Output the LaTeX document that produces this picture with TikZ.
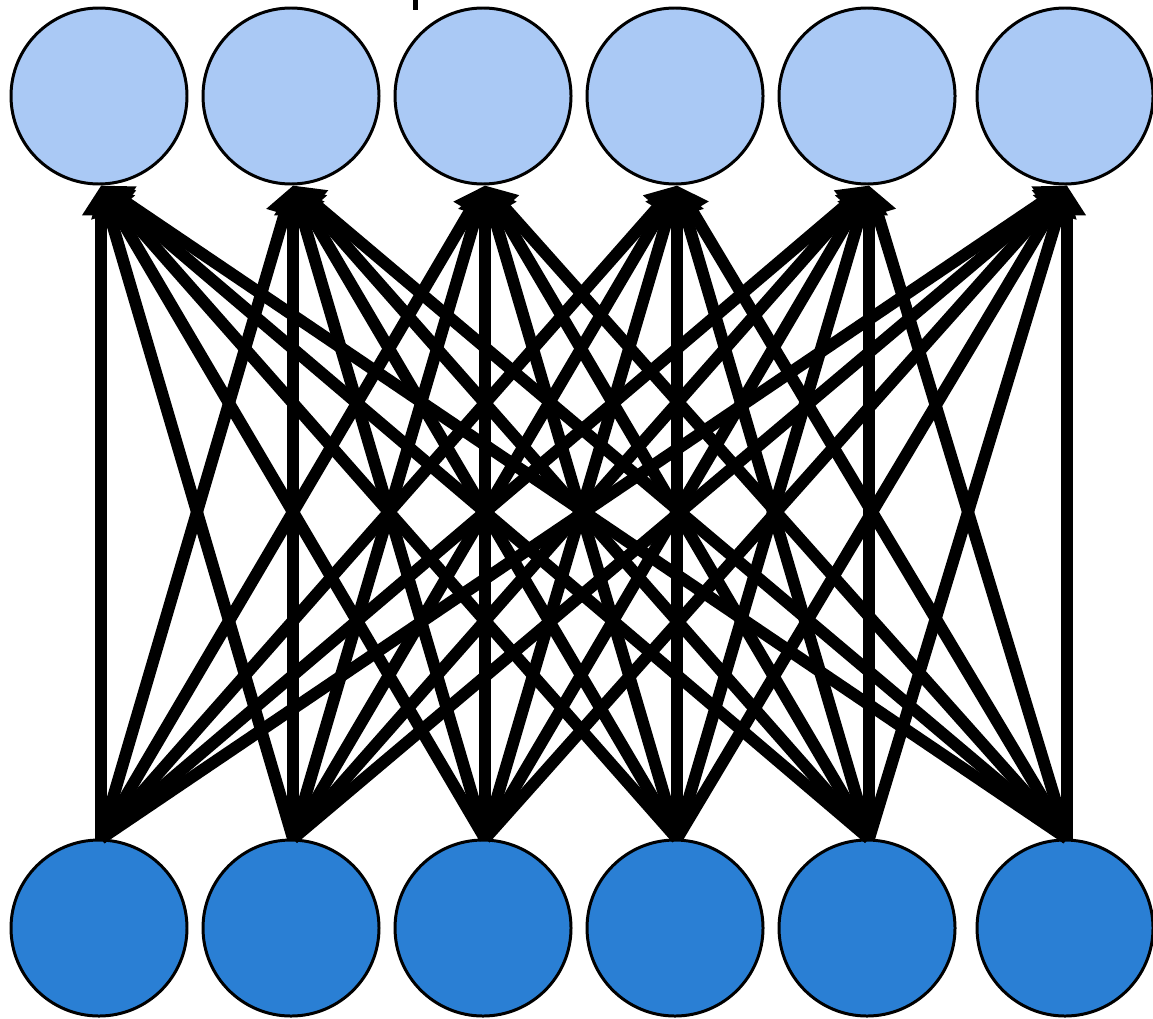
\documentclass[tikz,border=0pt]{standalone}
\usepackage{tikz}
\usetikzlibrary{arrows.meta}
\definecolor{outblue}{RGB}{170,201,245}
\definecolor{inblue}{RGB}{42,127,212}
\tikzset{
  unit/.style={circle, draw=black, line width=0.85pt, minimum size=1.76cm, inner sep=0pt},
  conn/.style={line width=0.12cm, -{Triangle[length=0.3cm, width=0.36cm]}}
}
\begin{document}
\begin{tikzpicture}
  \useasboundingbox (0,0) rectangle (11.53,10.18);
  % === small tick at the top edge ===
  \draw[line width=0.05cm] (4.155,10.18) -- (4.155,10.08);
  % === upper row (output units) ===
  \foreach \i/\x in {1/0.99, 2/2.91, 3/4.83, 4/6.75, 5/8.67, 6/10.65}
    \node[unit, fill=outblue] (out\i) at (\x,9.22) {};
  % === lower row (input units) ===
  \foreach \i/\x in {1/0.99, 2/2.91, 3/4.83, 4/6.75, 5/8.67, 6/10.65}
    \node[unit, fill=inblue] (in\i) at (\x,0.90) {};
  % === all-to-all connections ===
  \foreach \i in {1,...,6}
    \foreach \j in {1,...,6}
      \draw[conn] ([xshift=0.02cm]in\i.north) -- ([xshift=0.02cm]out\j.south);
\end{tikzpicture}
\end{document}
